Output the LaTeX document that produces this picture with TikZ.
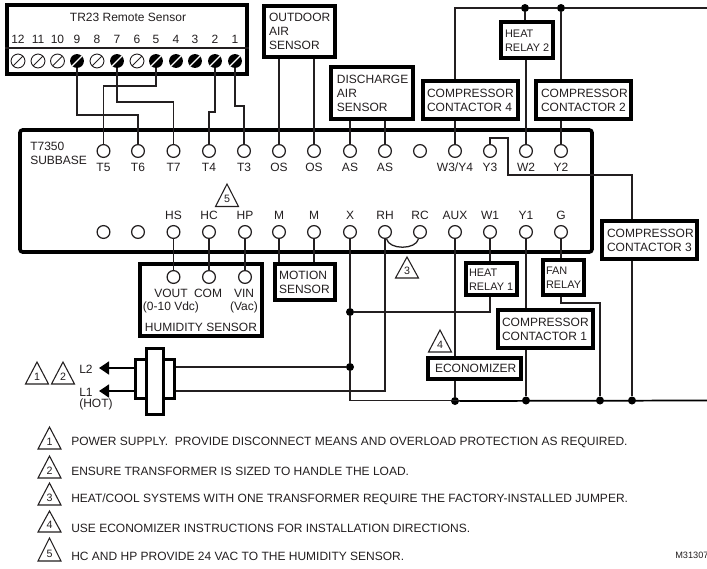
\documentclass[tikz,border=0pt]{standalone}
\usepackage{fontspec}
\setmainfont{Liberation Sans}
\usetikzlibrary{arrows.meta}
\definecolor{ink}{HTML}{231F20}
\newcommand\rl{\fontsize{8.2}{10.5}\selectfont}
\tikzset{
 wire/.style={draw=ink,line width=0.95pt},
 boxst/.style={rectangle,draw=black,fill=white,line width=2.7pt,inner ysep=0pt,text=ink,font=\fontsize{9}{10.5}\selectfont},
 term/.style={circle,draw=ink,fill=white,line width=0.9pt,minimum size=9.6pt,inner sep=0pt},
 lab/.style={text=ink,font=\fontsize{9}{10.5}\selectfont,inner sep=0pt,align=center},
 leg/.style={text=ink,font=\fontsize{9}{10}\selectfont,inner sep=0pt,anchor=west},
 dotn/.style={circle,fill=black,minimum size=6pt,inner sep=0pt},
 screwon/.style={circle,fill=black,minimum size=10.4pt,inner sep=0pt,path picture={\draw[white,line width=1pt] (path picture bounding box.south west)--(path picture bounding box.north east);}},
 screwoff/.style={circle,draw=ink,fill=white,line width=0.7pt,minimum size=10.4pt,inner sep=0pt,path picture={\draw[ink,line width=0.7pt] (path picture bounding box.south west)--(path picture bounding box.north east);}},
 tristyle/.style={draw=ink,line width=0.8pt,line join=miter},
 trinum/.style={text=ink,font=\fontsize{8}{9}\selectfont,inner sep=0pt},
 arrowwire/.style={draw=black,line width=2pt,-{Triangle[length=7.5pt,width=9.5pt]}},
}
\newcommand\boxnode[7]{% name,x0,y0,x1,y1,inset pt,text (outer extents, px)
 \pgfmathsetmacro\bw{(#4-#2-3.6)*0.75}\pgfmathsetmacro\bh{(#5-#3-3.6)*0.75}
 \pgfmathsetmacro\tw{\bw-2*#6}
 \node[boxst,inner xsep=#6pt,minimum width=\bw pt,minimum height=\bh pt] (#1) at ({(#2+#4)/2},{(#3+#5)/2}) {\makebox[\tw pt][l]{\raisebox{-3.5pt}[0pt][0pt]{\begin{tabular}{@{}l@{}}#7\end{tabular}}}};}
\newcommand\tri[5]{% name,apex x,top y,base y,number
 \draw[tristyle] ({#2-11.5},#4)--(#2,#3)--({#2+11.5},#4)--cycle;
 \node[trinum] (#1) at (#2,{#4-7.5}) {#5};}
\begin{document}
\begin{tikzpicture}[x=0.75pt,y=-0.75pt]
\useasboundingbox[fill=white] (0,0) rectangle (707,568);
% subbase
\node[rectangle,draw=black,line width=2.7pt,rounded corners=2pt,minimum width=429pt,minimum height=91.5pt,inner sep=0pt] (base) at (306,191) {};
\node[lab,align=left,anchor=west] (sublabel) at (30,153) {T7350\\SUBBASE};
% remote sensor
\boxnode{tr}{5}{3}{249}{76}{4}{}
\draw[wire] (tr.west |- 0,48) -- (tr.east |- 0,48);
\node[lab] (trt) at (128,17) {TR23 Remote Sensor};
\foreach \nm/\x/\st/\lb in {s12/18/screwoff/12,s11/38/screwoff/11,s10/57.5/screwoff/10,s9/77/screwon/9,s8/97/screwoff/8,s7/117/screwon/7,s6/137/screwoff/6,s5/156/screwon/5,s4/176/screwon/4,s3/195/screwon/3,s2/215/screwon/2,s1/235/screwon/1}{
 \node[\st] (\nm) at (\x,61) {};
 \node[lab] (l\nm) at (\x,39) {\lb};
}
% top boxes
\boxnode{oa}{262}{4}{337}{59}{3.9}{OUTDOOR\\AIR\\SENSOR}
\boxnode{da}{329}{65}{415}{121}{4.6}{DISCHARGE\\AIR\\SENSOR}
\boxnode{cc4}{421}{79}{520}{121}{3.2}{COMPRESSOR\\CONTACTOR 4}
\boxnode{cc2}{534}{79}{633}{121}{3.9}{COMPRESSOR\\CONTACTOR 2}
\boxnode{hr2}{499}{20}{555}{60}{3.2}{\rl HEAT\\\rl RELAY 2}
\boxnode{cc3}{600}{219}{699}{261}{3.9}{COMPRESSOR\\CONTACTOR 3}
% lower boxes
\boxnode{hum}{138}{262}{264}{338}{4}{}
\boxnode{mot}{273}{262}{337}{302}{3.2}{MOTION\\SENSOR}
\boxnode{hr1}{464}{261}{519}{297}{2.4}{\rl HEAT\\\rl RELAY 1}
\boxnode{fan}{541}{258}{586}{297}{2.4}{\rl FAN\\\rl RELAY}
\boxnode{cc1}{496}{308}{595}{350}{3.2}{COMPRESSOR\\CONTACTOR 1}
\boxnode{eco}{426}{356}{523}{381}{5.4}{ECONOMIZER}
% top terminals
\foreach \nm/\x/\lb in {T5/103.5/T5,T6/138/T6,T7/173.5/T7,T4/209/T4,T3/244/T3,OSa/279/OS,OSb/314/OS,ASa/350/AS,ASb/385/AS,TB/420/,W3/455/W3\slash Y4,Y3/490/Y3,W2/526/W2,Y2/561/Y2}{
 \node[term] (\nm) at (\x,151) {};
 \node[lab] (l\nm) at (\x,167) {\lb};
}
% bottom terminals
\foreach \nm/\x/\lb in {BA/103.5/,BB/138/,HS/173.5/HS,HC/209/HC,HP/245/HP,Ma/279/M,Mb/314/M,X/350/X,RH/385/RH,RC/420/RC,AUX/455/AUX,W1/490/W1,Y1/526/Y1,G/561/G}{
 \node[term] (\nm) at (\x,232) {};
 \node[lab] (l\nm) at (\x,215) {\lb};
}
% humidity sensor contents
\node[term] (VO) at (173.5,277) {};
\node[term] (CO) at (209,277) {};
\node[term] (VI) at (245,277) {};
\node[lab] (vo1) at (171,293) {VOUT};
\node[lab] (co1) at (208,293) {COM};
\node[lab] (vi1) at (244,293) {VIN};
\node[lab] (vo2) at (171,307) {(0-10 Vdc)};
\node[lab] (vi2) at (244,307) {(Vac)};
\node[lab] (humt) at (201,327) {HUMIDITY SENSOR};
% junctions and bends
\node[dotn] (dT1) at (525,8) {};
\node[dotn] (dT2) at (561,8) {};
\coordinate (topE) at (707,8);
\node[dotn] (dX1) at (350,312) {};
\node[dotn] (dX2) at (350,367) {};
\node[dotn] (dB1) at (455,401) {};
\node[dotn] (dB2) at (526,400.5) {};
\node[dotn] (dB3) at (600,400.5) {};
\node[dotn] (dB4) at (632,400.5) {};
\coordinate (botE) at (707,400.5);
\coordinate (botW) at (350,400.5);
% remote sensor wires
\draw[wire] (s9) -- (77,115) -- (138,115) -- (T6);
\draw[wire] (s5) -- (156,86) -- (103.5,86) -- (T5);
\draw[wire] (s7) -- (117,102) -- (173.5,102) -- (T7);
\draw[wire] (s2) -- (215,112) -- (209,112) -- (T4);
\draw[wire] (s1) -- (235,106) -- (244,106) -- (T3);
% top sensors
\draw[wire] (OSa) -- (OSa |- oa.south);
\draw[wire] (OSb) -- (OSb |- oa.south);
\draw[wire] (ASa) -- (ASa |- da.south);
\draw[wire] (ASb) -- (ASb |- da.south);
\draw[wire] (W3) -- (W3 |- cc4.south);
\draw[wire] (Y2) -- (Y2 |- cc2.south);
\draw[wire] (W2) -- (W2 |- hr2.south);
\draw[wire] (dT1) -- (dT1 |- hr2.north);
\draw[wire] (W3 |- cc4.north) -- (455,8) -- (dT1) -- (dT2) -- (topE);
\draw[wire] (dT2) -- (dT2 |- cc2.north);
% Y3 to contactor 3
\draw[wire] (Y3) -- (490,138) -- (508,138) -- (508,175) -- (632,175) -- (632,219);
\draw[wire] (632,261) -- (dB4);
% lower sensors
\draw[wire] (HS) -- (VO);
\draw[wire] (HC) -- (CO);
\draw[wire] (HP) -- (VI);
\draw[wire] (Ma) -- (Ma |- mot.north);
\draw[wire] (Mb) -- (Mb |- mot.north);
\draw[wire] (X) -- (dX1) -- (dX2) -- (botW) -- (botE);
\draw[line width=1.3pt,draw=black] (dB1) -- (botE);
\draw[wire] (W1) -- (W1 |- hr1.north);
\draw[wire] (W1 |- hr1.south) -- (490,312) -- (dX1);
\draw[wire] (AUX) -- (AUX |- eco.north);
\draw[wire] (AUX |- eco.south) -- (dB1);
\draw[wire] (Y1) -- (Y1 |- cc1.north);
\draw[wire] (Y1 |- cc1.south) -- (dB2);
\draw[wire] (G) -- (G |- fan.north);
\draw[wire] (G |- fan.south) -- (561,303) -- (600,303) -- (dB3);
\draw[wire] (RH) .. controls (389,250) and (416,250) .. (RC);
% transformer
\node[rectangle,draw=black,fill=white,line width=2.4pt,minimum width=29.5pt,minimum height=29.5pt,inner sep=0pt] (xs) at (155,379) {};
\node[rectangle,draw=black,fill=white,line width=2.4pt,minimum width=13pt,minimum height=49.5pt,inner sep=0pt] (xc) at (155,381.5) {};
\coordinate (L2) at (99,368);
\coordinate (L1) at (99,391);
\draw[arrowwire] (xs.west |- L2) -- (L2);
\draw[arrowwire] (xs.west |- L1) -- (L1);
\draw[wire] (xs.east |- dX2) -- (dX2);
\draw[wire] (xs.east |- L1) -- (385,391) -- (RH);
\node[lab,anchor=west] (tl2) at (79,369) {L2};
\node[lab,anchor=west] (tl1) at (79,392) {L1};
\node[lab,anchor=west] (thot) at (79,404.5) {(HOT)};
% callout triangles
\tri{ta5}{227}{184}{206.5}{5}
\tri{ta3}{407}{257}{278}{3}
\tri{ta4}{440}{330}{352}{4}
\tri{ta1}{37}{362}{384}{1}
\tri{ta2}{63}{362}{384}{2}
% legend
\tri{n1}{49.5}{427}{449}{1}
\tri{n2}{49.5}{456}{478}{2}
\tri{n3}{49.5}{483}{505}{3}
\tri{n4}{49.5}{511}{532}{4}
\tri{n5}{49.5}{538}{561}{5}
\node[leg] (t1) at (71,442) {POWER SUPPLY.\ \ PROVIDE DISCONNECT MEANS AND OVERLOAD PROTECTION AS REQUIRED.};
\node[leg] (t2) at (71,471) {ENSURE TRANSFORMER IS SIZED TO HANDLE THE LOAD.};
\node[leg] (t3) at (71,499) {HEAT/COOL SYSTEMS WITH ONE TRANSFORMER REQUIRE THE FACTORY-INSTALLED JUMPER.};
\node[leg] (t4) at (71,528) {USE ECONOMIZER INSTRUCTIONS FOR INSTALLATION DIRECTIONS.};
\node[leg] (t5) at (71,556) {HC AND HP PROVIDE 24 VAC TO THE HUMIDITY SENSOR.};
\node[leg,font=\fontsize{6.9}{8}\selectfont] (mk) at (675,555) {M31307};
\end{tikzpicture}
\end{document}
